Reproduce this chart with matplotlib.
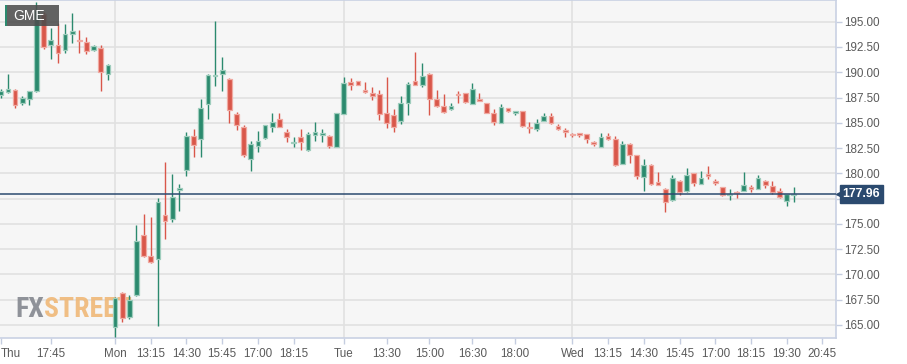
import numpy as np
import matplotlib.pyplot as plt
from matplotlib.patches import Rectangle
from matplotlib import font_manager
import matplotlib.transforms as mtransforms

# 15-minute GME candles, Thu 16:00 -> Wed 19:45 (non-trading hours removed)
opens = [187.7, 188.0, 188.25, 187.0, 187.4, 188.1, 195.8, 192.7, 192.7, 192.2,
         193.8, 193.2, 193.0, 192.2, 192.4, 189.8, 164.8, 168.2, 165.8, 168.0,
         173.9, 171.85, 171.5, 175.9, 175.5, 178.3, 180.3, 183.7, 183.4, 186.9,
         189.6, 189.8, 189.3, 185.9, 184.6, 181.4, 182.75, 183.5, 184.55, 185.4,
         184.1, 183.0, 183.6, 182.3, 183.8, 183.8, 183.7, 182.6, 185.9, 189.0,
         189.1, 188.25, 187.95, 187.8, 186.0, 185.75, 185.2, 187.0, 189.15, 188.75,
         189.85, 187.4, 186.65, 186.35, 187.85, 187.9, 186.9, 187.35, 187.0, 186.0,
         185.0, 186.45, 186.0, 186.15, 184.55, 184.35, 185.2, 185.65, 184.7, 184.3,
         183.9, 183.95, 183.85, 183.1, 182.65, 183.7, 183.35, 180.95, 182.9, 181.8,
         179.6, 180.85, 179.1, 178.4, 177.35, 179.2, 178.2, 180.0, 178.95, 179.9,
         179.25, 178.6, 177.85, 178.15, 178.25, 178.6, 178.45, 179.25, 178.7, 178.2,
         177.25, 177.85]
highs = [188.3, 189.8, 188.3, 187.6, 188.1, 197.0, 196.0, 194.4, 194.9, 194.8,
         195.9, 194.2, 193.45, 192.7, 192.7, 190.8, 167.8, 168.3, 168.0, 174.9,
         176.0, 175.65, 177.6, 181.1, 179.9, 178.95, 184.1, 184.4, 187.4, 189.8,
         195.05, 191.5, 189.4, 186.1, 184.75, 183.2, 184.2, 184.8, 186.0, 186.0,
         184.35, 183.6, 184.35, 184.1, 185.05, 184.35, 183.8, 186.0, 189.5, 189.45,
         189.15, 189.0, 188.55, 188.25, 189.5, 186.4, 187.65, 189.05, 192.0, 190.9,
         189.9, 188.25, 187.8, 187.0, 188.1, 187.9, 188.9, 187.9, 187.0, 186.4,
         186.9, 186.5, 186.2, 186.2, 185.1, 185.4, 186.0, 186.0, 184.9, 184.5,
         183.95, 184.0, 183.9, 183.2, 184.0, 184.0, 183.65, 183.2, 183.0, 181.85,
         181.4, 180.9, 180.1, 178.5, 179.8, 179.3, 180.5, 180.05, 180.2, 180.7,
         179.45, 178.65, 178.45, 178.2, 180.1, 178.85, 179.8, 179.3, 179.2, 178.55,
         178.0, 178.6]
lows = [187.5, 187.9, 186.5, 186.8, 186.8, 188.0, 192.3, 191.3, 190.9, 191.9,
        192.9, 191.9, 191.8, 192.1, 188.1, 189.2, 163.8, 165.3, 165.6, 167.9,
        171.7, 171.1, 164.9, 173.5, 175.2, 176.3, 179.7, 181.6, 181.6, 185.4,
        188.6, 188.1, 185.0, 184.3, 181.65, 180.2, 182.1, 183.4, 184.1, 184.55,
        183.1, 182.6, 182.3, 182.25, 183.2, 183.05, 182.5, 182.6, 185.9, 188.2,
        188.7, 187.95, 187.25, 185.3, 184.5, 184.1, 184.9, 185.8, 188.7, 188.5,
        185.8, 186.6, 186.0, 186.3, 187.0, 186.95, 186.85, 187.15, 185.95, 184.8,
        184.95, 186.1, 185.75, 184.6, 184.0, 184.2, 185.15, 184.85, 184.3, 183.6,
        183.6, 183.6, 183.0, 182.7, 182.6, 183.3, 180.7, 180.9, 181.05, 179.4,
        178.2, 178.8, 178.8, 176.2, 177.3, 177.85, 178.15, 178.75, 178.9, 179.4,
        178.8, 177.8, 177.35, 177.55, 178.2, 178.1, 178.4, 178.5, 178.0, 177.6,
        176.8, 177.2]
closes = [188.1, 188.3, 186.8, 187.5, 188.1, 196.2, 192.5, 193.2, 191.9, 193.8,
          194.1, 193.1, 192.1, 192.6, 190.0, 190.7, 167.7, 165.7, 167.5, 173.3,
          171.8, 171.25, 177.2, 175.3, 177.7, 178.5, 183.7, 182.8, 186.5, 189.75,
          189.7, 190.2, 186.3, 184.75, 181.8, 182.9, 183.2, 184.8, 185.1, 184.6,
          183.6, 183.1, 183.05, 183.85, 184.05, 184.0, 182.75, 186.0, 188.95, 188.75,
          188.75, 188.0, 187.65, 185.85, 185.0, 184.6, 187.0, 188.8, 188.75, 189.6,
          187.4, 186.65, 186.1, 186.65, 187.7, 187.1, 188.35, 187.2, 186.0, 185.05,
          186.55, 186.2, 186.1, 184.65, 184.5, 185.0, 185.7, 185.0, 184.4, 184.1,
          183.8, 183.8, 183.35, 182.9, 183.6, 183.35, 180.8, 182.9, 181.8, 179.75,
          180.85, 178.9, 178.85, 177.2, 179.5, 178.1, 179.85, 179.0, 179.55, 179.7,
          179.0, 177.85, 178.0, 178.05, 178.85, 178.45, 179.5, 178.8, 178.1, 177.7,
          178.0, 177.96]

last_price = 177.96
tick_pos = [0, 7, 16, 21, 26, 31, 36, 41, 48, 54, 60, 66, 72, 80, 85, 90, 95, 100, 105, 110, 115]
tick_labels = ['Thu', '17:45', 'Mon', '13:15', '14:30', '15:45', '17:00', '18:15',
               'Tue', '13:30', '15:00', '16:30', '18:00', 'Wed', '13:15', '14:30',
               '15:45', '17:00', '18:15', '19:30', '20:45']
day_starts = [16, 48, 80]
y_ticks = np.arange(165, 195.1, 2.5)

GREEN = '#2b8a6e'
RED = '#d9574a'
NAVY = '#2b4a6f'

plt.rcParams['font.family'] = ['Liberation Sans', 'DejaVu Sans']

# pick a condensed face for the watermark if one is installed
installed = {f.name for f in font_manager.fontManager.ttflist}
narrow = None
for name in ['Roboto Condensed', 'Liberation Sans Narrow', 'Open Sans Condensed',
             'DejaVu Sans Condensed', 'Noto Sans Display']:
    if name in installed:
        narrow = name
        break
if narrow:
    wm_family = [narrow, 'DejaVu Sans']
    wm_size = 20
else:
    wm_family = ['Liberation Sans', 'DejaVu Sans']
    wm_size = 14.5

W, H = 907, 364
fig = plt.figure(figsize=(W / 100, H / 100), dpi=100)
ax = fig.add_axes([0, 26 / H, 836 / W, 338 / H])
ax.set_facecolor('#f6f6f6')

o = np.array(opens)
c = np.array(closes)
hi = np.array(highs)
lo = np.array(lows)
x = np.arange(len(o))
up = c >= o
cols = np.where(up, GREEN, RED)
edge = np.where(up, '#9fcdbd', '#f0aaa2')

ax.vlines(x, lo, hi, colors=cols, linewidth=1, zorder=3)
bottom = np.minimum(o, c)
height = np.maximum(np.abs(c - o), 0.12)
ax.bar(x, height, bottom=bottom, width=0.66, color=cols, edgecolor=edge,
       linewidth=0.9, zorder=4)

ax.axhline(last_price, color=NAVY, linewidth=1.1, zorder=5)

for y in y_ticks:
    ax.axhline(y, color='#e1e1e1', linewidth=1.2, zorder=1)
for d in day_starts:
    ax.axvline(d, color='#e1e1e1', linewidth=1.2, zorder=1)

ax.set_xlim(-0.1, 116.9)
ax.set_ylim(163.7, 197.15)
ax.set_xticks(tick_pos)
ax.set_xticklabels(tick_labels)
ax.xaxis.get_majorticklabels()[0].set_horizontalalignment('left')
ax.yaxis.tick_right()
ax.set_yticks(y_ticks)
ax.set_yticklabels([f'{v:.2f}' for v in y_ticks])
ax.tick_params(axis='both', colors='#c5cde0', labelcolor='#5a5a5a', labelsize=8.4,
               length=4, width=1)
ax.tick_params(axis='y', pad=2)
ax.tick_params(axis='x', pad=3)
for s in ['top', 'right', 'bottom']:
    ax.spines[s].set_color('#c9d1e3')
    ax.spines[s].set_linewidth(1.2)
ax.spines['left'].set_visible(False)

# last price tag on the right axis
trans = mtransforms.blended_transform_factory(ax.transAxes, ax.transData)
ax.text(1.008, last_price, '177.96', transform=trans, ha='left', va='center',
        color='white', fontsize=8.8, fontweight='bold', zorder=10, clip_on=False,
        bbox=dict(boxstyle='square,pad=0.25', facecolor=NAVY, edgecolor=NAVY))
ax.plot([1.004], [last_price], marker='<', markersize=5, color=NAVY,
        transform=trans, clip_on=False, zorder=10)

# symbol badge
fig.add_artist(Rectangle((5 / W, 1 - 26 / H), 54 / W, 21 / H, transform=fig.transFigure,
                         facecolor='#4d4d4d', alpha=0.88, edgecolor='none', zorder=20))
fig.add_artist(Rectangle((5 / W, 1 - 26 / H), 2 / W, 21 / H, transform=fig.transFigure,
                         facecolor=GREEN, edgecolor='none', zorder=21))
fig.text(29 / W, 1 - 16 / H, 'GME', color='white', fontsize=10, ha='center',
         va='center', zorder=22)

# watermark
fx = fig.text(15 / W, 1 - 317 / H, 'FX', color='#8a8d94', fontsize=wm_size,
              fontweight='bold', family=wm_family,
              ha='left', va='baseline', alpha=0.95, zorder=2)
ax.annotate('STREET', xy=(1, 0), xycoords=fx, color='#f0b878', fontsize=wm_size,
            fontweight='bold', family=wm_family,
            ha='left', va='bottom', alpha=0.9, zorder=2, annotation_clip=False)

fig.savefig('out.png', dpi=100)
